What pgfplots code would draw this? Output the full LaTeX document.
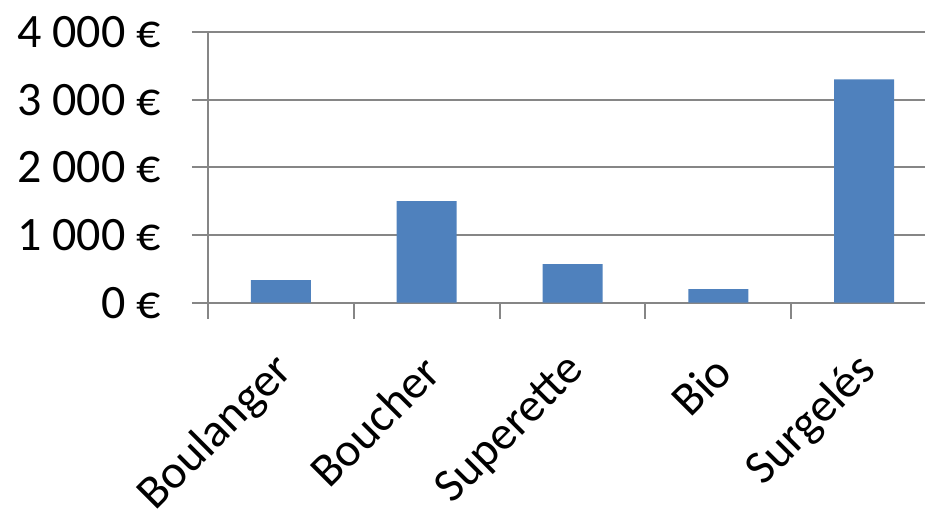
\documentclass[border=0pt]{standalone}
\usepackage{pgfplots}
\pgfplotsset{compat=1.18}
\usepackage{fontspec}
\setmainfont{Carlito}

\definecolor{barblue}{HTML}{4F81BD}
\definecolor{axgray}{HTML}{868686}

\begin{document}
\begin{tikzpicture}[x=1pt,y=1pt]
  \useasboundingbox (0,0) rectangle (925,520);
  \begin{axis}[
      at={(208pt,217.3pt)}, anchor=south west,
      scale only axis,
      width=729pt, height=270.7pt,
      xmin=-0.5, xmax=4.5,
      ymin=0, ymax=4000,
      axis lines*=left,
      axis line style={axgray, line width=2pt},
      tick style={axgray, line width=2pt},
      tick align=outside,
      major tick length=16pt,
      ymajorgrids,
      grid style={axgray, line width=2pt},
      xtick={-0.5,0.5,...,4.5},
      x tick label as interval,
      xticklabels={Boulanger, Boucher, Superette, Bio, Surgelés},
      ytick={0,1000,2000,3000,4000},
      yticklabels={0~€, 1~000~€, 2~000~€, 3~000~€, 4~000~€},
      ticklabel style={text=black, inner sep=0pt},
      yticklabel style={font=\fontsize{48}{48}\selectfont, anchor=east, xshift=-31pt},
      xticklabel style={font=\fontsize{47.5}{47.5}\selectfont, xshift=5pt, yshift=-45pt, anchor=east, rotate=45},
      ybar, bar width=60pt,
    ]
    \addplot[fill=barblue, draw=none] coordinates {
      (0, 335) (1, 1500) (2, 570) (3, 200) (4, 3300)
    };
  \end{axis}
\end{tikzpicture}
\end{document}
